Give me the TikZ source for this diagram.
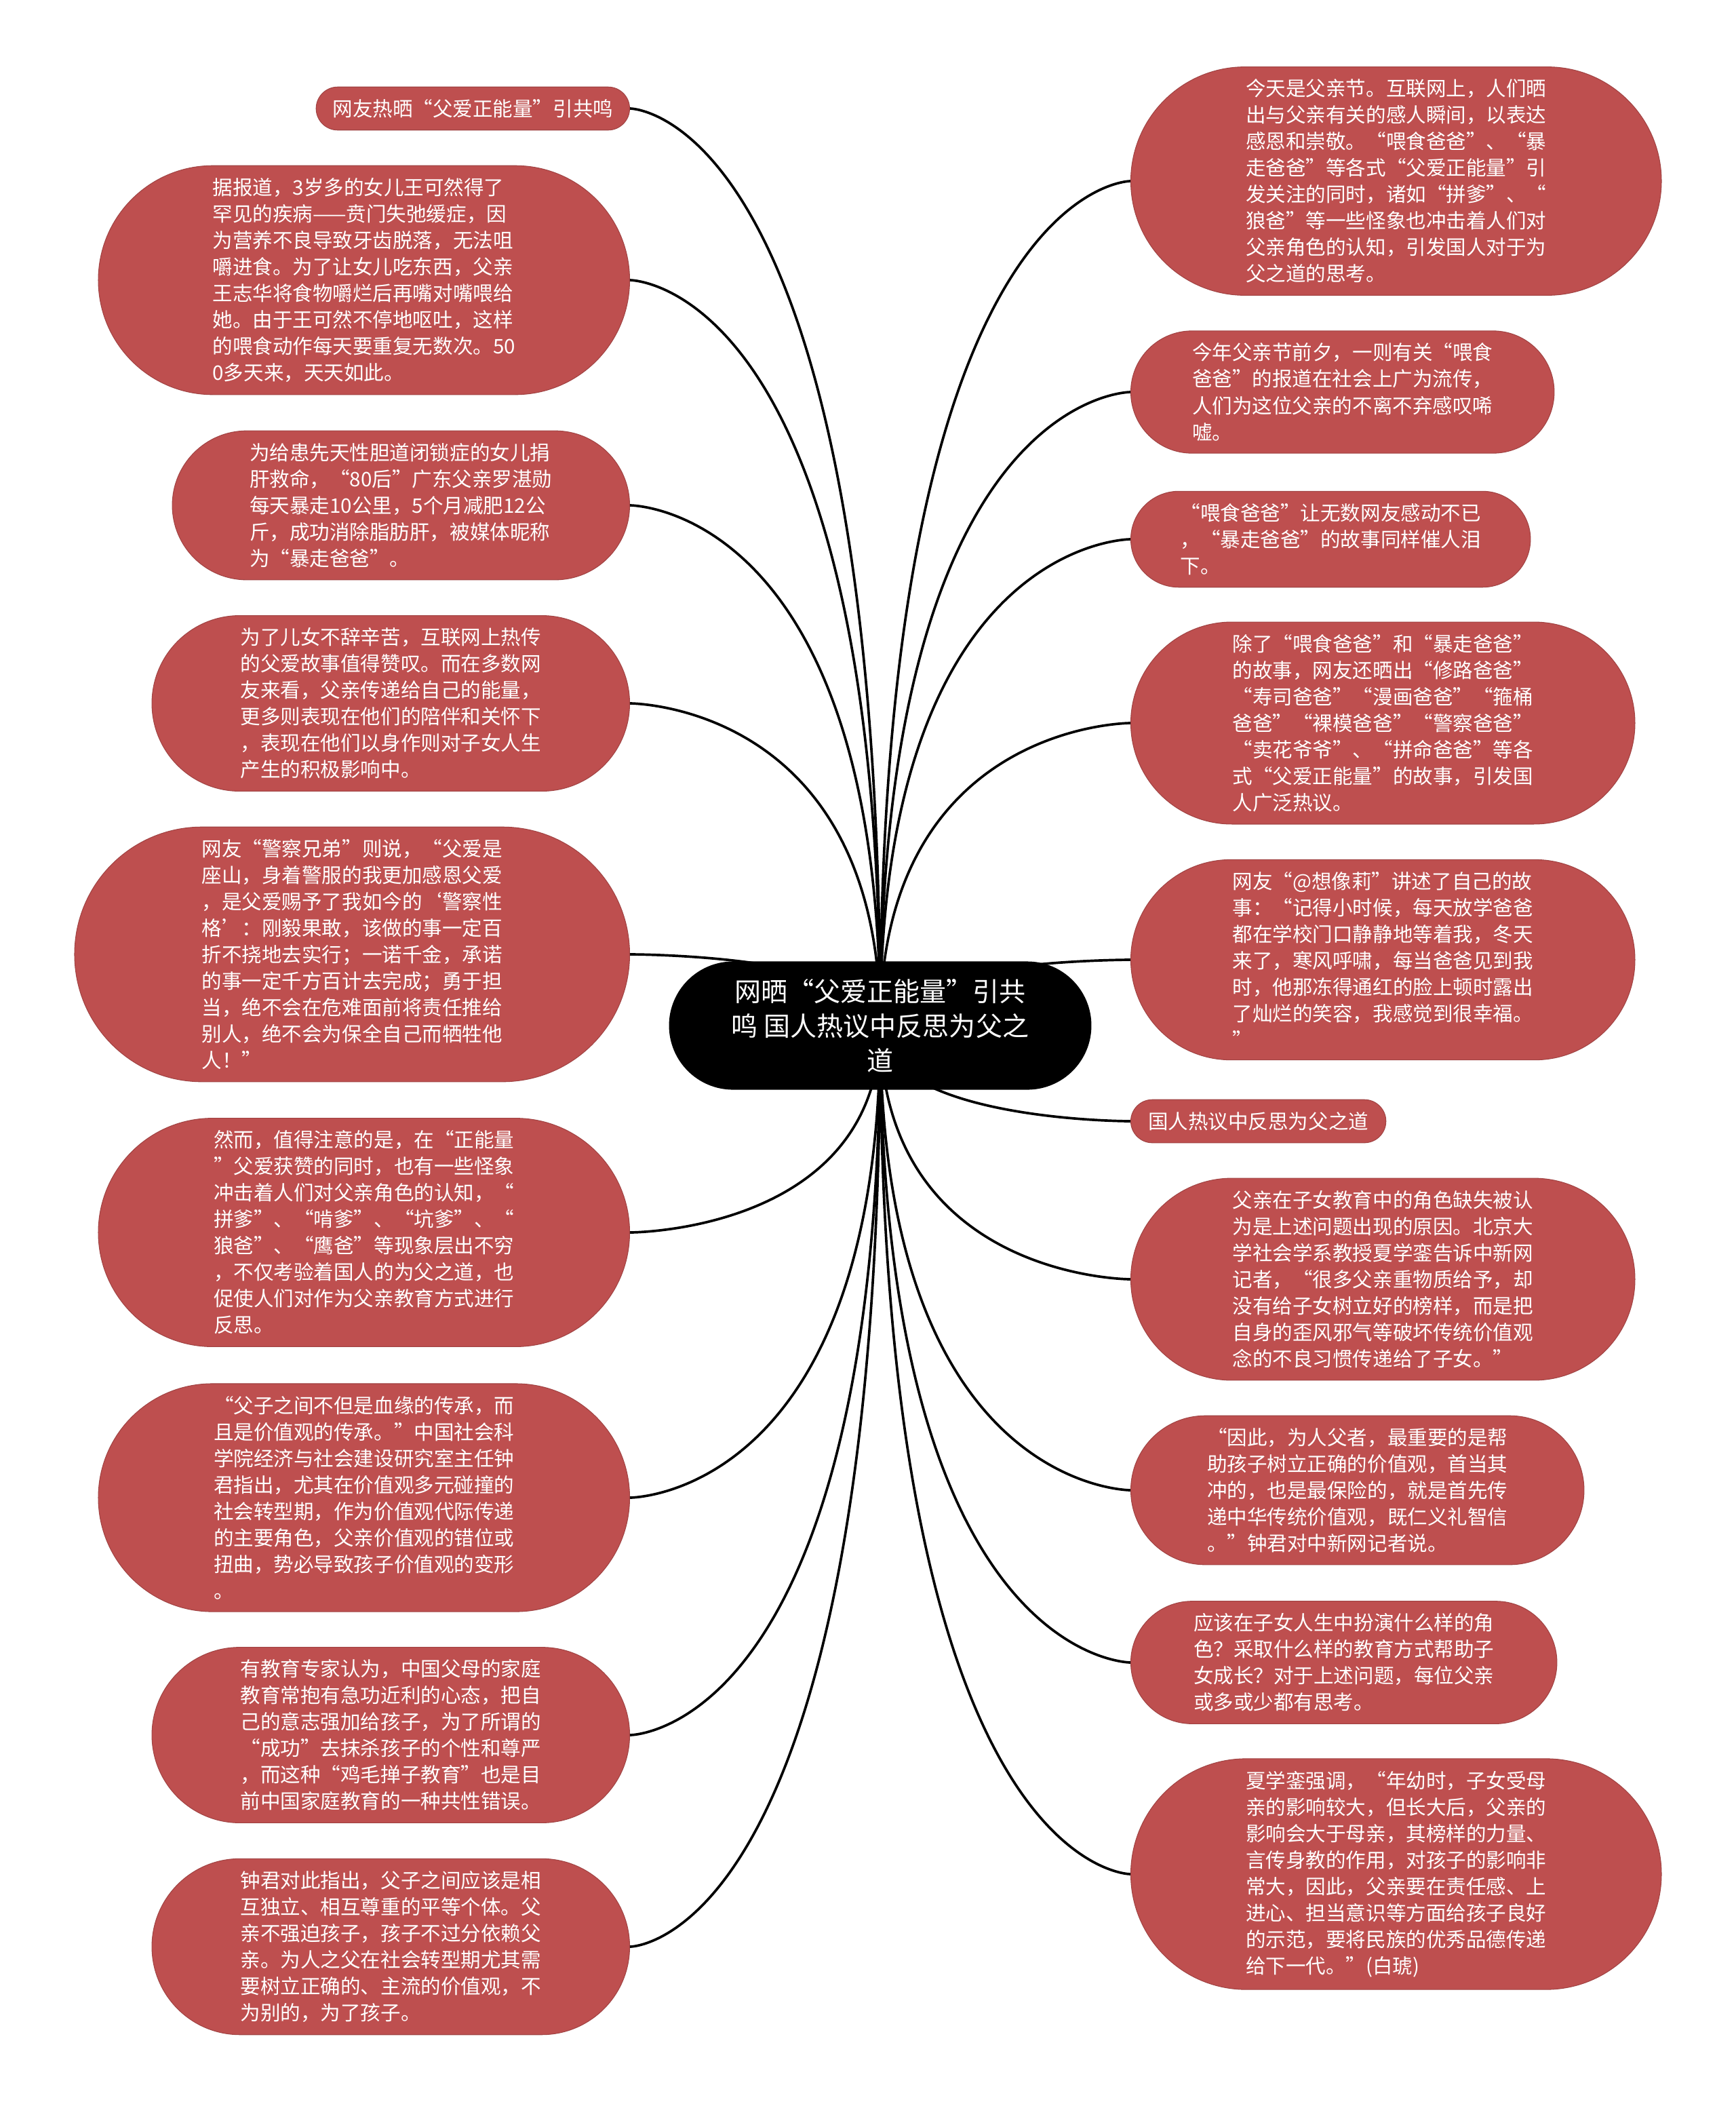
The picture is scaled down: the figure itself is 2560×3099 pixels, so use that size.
\documentclass[tikz,border=0pt]{standalone}
\usepackage{fontspec}
\setmainfont{Noto Sans CJK SC}
\usepackage{xcolor}
\usetikzlibrary{shapes.misc, backgrounds}
\definecolor{leafred}{RGB}{190,79,79}
\tikzset{
  leaf/.style={rounded rectangle, draw=leafred!85!black, line width=0.3pt,
               fill=leafred, text=white, align=left, inner xsep=0.06cm,
               inner ysep=0.18cm, font=\fontsize{8.4pt}{11.1pt}\selectfont},
  topic/.style={rounded rectangle, fill=black, text=white, align=center,
                minimum width=6.46cm, minimum height=1.89cm,
                font=\fontsize{11.1pt}{14.5pt}\selectfont},
  link/.style={draw=black, line width=1.05pt},
}

\begin{document}
\begin{tikzpicture}[x=0.01cm, y=-0.01cm]
  \useasboundingbox (0,0) rectangle (2560,3099);

  \node[topic] (hub) at (1298,1512) {网晒“父爱正能量”引共\\鸣 国人热议中反思为父之\\道};

  % left side
  \node[leaf, anchor=east, minimum width=4.74cm] (l1) at (929,160) {网友热晒“父爱正能量”引共鸣};
  \node[leaf, anchor=east, minimum width=7.95cm] (l2) at (929,413)
    {据报道，3岁多的女儿王可然得了\\罕见的疾病——贲门失弛缓症，因\\为营养不良导致牙齿脱落，无法咀\\嚼进食。为了让女儿吃东西，父亲\\王志华将食物嚼烂后再嘴对嘴喂给\\她。由于王可然不停地呕吐，这样\\的喂食动作每天要重复无数次。50\\0多天来，天天如此。};
  \node[leaf, anchor=east, minimum width=6.86cm] (l3) at (929,745)
    {为给患先天性胆道闭锁症的女儿捐\\肝救命，“80后”广东父亲罗湛勋\\每天暴走10公里，5个月减肥12公\\斤，成功消除脂肪肝，被媒体昵称\\为“暴走爸爸”。};
  \node[leaf, anchor=east, minimum width=7.16cm] (l4) at (929,1037)
    {为了儿女不辞辛苦，互联网上热传\\的父爱故事值得赞叹。而在多数网\\友来看，父亲传递给自己的能量，\\更多则表现在他们的陪伴和关怀下\\，表现在他们以身作则对子女人生\\产生的积极影响中。};
  \node[leaf, anchor=east, minimum width=8.30cm] (l5) at (929,1407)
    {网友“警察兄弟”则说，“父爱是\\座山，身着警服的我更加感恩父爱\\，是父爱赐予了我如今的‘警察性\\格’：刚毅果敢，该做的事一定百\\折不挠地去实行；一诺千金，承诺\\的事一定千方百计去完成；勇于担\\当，绝不会在危难面前将责任推给\\别人，绝不会为保全自己而牺牲他\\人！”};
  \node[leaf, anchor=east, minimum width=7.95cm] (l6) at (929,1817)
    {然而，值得注意的是，在“正能量\\”父爱获赞的同时，也有一些怪象\\冲击着人们对父亲角色的认知，“\\拼爹”、“啃爹”、“坑爹”、“\\狼爸”、“鹰爸”等现象层出不穷\\，不仅考验着国人的为父之道，也\\促使人们对作为父亲教育方式进行\\反思。};
  \node[leaf, anchor=east, minimum width=7.95cm] (l7) at (929,2208)
    {“父子之间不但是血缘的传承，而\\且是价值观的传承。”中国社会科\\学院经济与社会建设研究室主任钟\\君指出，尤其在价值观多元碰撞的\\社会转型期，作为价值观代际传递\\的主要角色，父亲价值观的错位或\\扭曲，势必导致孩子价值观的变形\\。};
  \node[leaf, anchor=east, minimum width=7.16cm] (l8) at (929,2558)
    {有教育专家认为，中国父母的家庭\\教育常抱有急功近利的心态，把自\\己的意志强加给孩子，为了所谓的\\“成功”去抹杀孩子的个性和尊严\\，而这种“鸡毛掸子教育”也是目\\前中国家庭教育的一种共性错误。};
  \node[leaf, anchor=east, minimum width=7.16cm] (l9) at (929,2870)
    {钟君对此指出，父子之间应该是相\\互独立、相互尊重的平等个体。父\\亲不强迫孩子，孩子不过分依赖父\\亲。为人之父在社会转型期尤其需\\要树立正确的、主流的价值观，不\\为别的，为了孩子。};

  % right side
  \node[leaf, anchor=west, minimum width=7.94cm] (r1) at (1667,267)
    {今天是父亲节。互联网上，人们晒\\出与父亲有关的感人瞬间，以表达\\感恩和崇敬。“喂食爸爸”、“暴\\走爸爸”等各式“父爱正能量”引\\发关注的同时，诸如“拼爹”、“\\狼爸”等一些怪象也冲击着人们对\\父亲角色的认知，引发国人对于为\\父之道的思考。};
  \node[leaf, anchor=west, minimum width=6.36cm] (r2) at (1667,578)
    {今年父亲节前夕，一则有关“喂食\\爸爸”的报道在社会上广为流传，\\人们为这位父亲的不离不弃感叹唏\\嘘。};
  \node[leaf, anchor=west, minimum width=6.01cm] (r3) at (1667,795)
    {“喂食爸爸”让无数网友感动不已\\，“暴走爸爸”的故事同样催人泪\\下。};
  \node[leaf, anchor=west, minimum width=7.55cm] (r4) at (1667,1066)
    {除了“喂食爸爸”和“暴走爸爸”\\的故事，网友还晒出“修路爸爸”\\“寿司爸爸”“漫画爸爸”“箍桶\\爸爸”“裸模爸爸”“警察爸爸”\\“卖花爷爷”、“拼命爸爸”等各\\式“父爱正能量”的故事，引发国\\人广泛热议。};
  \node[leaf, anchor=west, minimum width=7.55cm] (r5) at (1667,1415)
    {网友“@想像莉”讲述了自己的故\\事：“记得小时候，每天放学爸爸\\都在学校门口静静地等着我，冬天\\来了，寒风呼啸，每当爸爸见到我\\时，他那冻得通红的脸上顿时露出\\了灿烂的笑容，我感觉到很幸福。\\”};
  \node[leaf, anchor=west, minimum width=3.88cm] (r6) at (1667,1653) {国人热议中反思为父之道};
  \node[leaf, anchor=west, minimum width=7.55cm] (r7) at (1667,1886)
    {父亲在子女教育中的角色缺失被认\\为是上述问题出现的原因。北京大\\学社会学系教授夏学銮告诉中新网\\记者，“很多父亲重物质给予，却\\没有给子女树立好的榜样，而是把\\自身的歪风邪气等破坏传统价值观\\念的不良习惯传递给了子女。”};
  \node[leaf, anchor=west, minimum width=6.80cm] (r8) at (1667,2197)
    {“因此，为人父者，最重要的是帮\\助孩子树立正确的价值观，首当其\\冲的，也是最保险的，就是首先传\\递中华传统价值观，既仁义礼智信\\。”钟君对中新网记者说。};
  \node[leaf, anchor=west, minimum width=6.40cm] (r9) at (1667,2451)
    {应该在子女人生中扮演什么样的角\\色？采取什么样的教育方式帮助子\\女成长？对于上述问题，每位父亲\\或多或少都有思考。};
  \node[leaf, anchor=west, minimum width=7.94cm] (r10) at (1667,2763)
    {夏学銮强调，“年幼时，子女受母\\亲的影响较大，但长大后，父亲的\\影响会大于母亲，其榜样的力量、\\言传身教的作用，对孩子的影响非\\常大，因此，父亲要在责任感、上\\进心、担当意识等方面给孩子良好\\的示范，要将民族的优秀品德传递\\给下一代。”(白琥)};

  \begin{scope}[on background layer]
    \fill[white] (0,0) rectangle (2560,3099);
    \draw[link] (hub.center) .. controls (hub.center |- l1.east) and (l1.east) .. (l1.east);
    \draw[link] (hub.center) .. controls (hub.center |- l2.east) and (l2.east) .. (l2.east);
    \draw[link] (hub.center) .. controls (hub.center |- l3.east) and (l3.east) .. (l3.east);
    \draw[link] (hub.center) .. controls (hub.center |- l4.east) and (l4.east) .. (l4.east);
    \draw[link] (hub.center) .. controls (hub.center |- l5.east) and (l5.east) .. (l5.east);
    \draw[link] (hub.center) .. controls (hub.center |- l6.east) and (l6.east) .. (l6.east);
    \draw[link] (hub.center) .. controls (hub.center |- l7.east) and (l7.east) .. (l7.east);
    \draw[link] (hub.center) .. controls (hub.center |- l8.east) and (l8.east) .. (l8.east);
    \draw[link] (hub.center) .. controls (hub.center |- l9.east) and (l9.east) .. (l9.east);
    \draw[link] (hub.center) .. controls (hub.center |- r1.west) and (r1.west) .. (r1.west);
    \draw[link] (hub.center) .. controls (hub.center |- r2.west) and (r2.west) .. (r2.west);
    \draw[link] (hub.center) .. controls (hub.center |- r3.west) and (r3.west) .. (r3.west);
    \draw[link] (hub.center) .. controls (hub.center |- r4.west) and (r4.west) .. (r4.west);
    \draw[link] (hub.center) .. controls (hub.center |- r5.west) and (r5.west) .. (r5.west);
    \draw[link] (hub.center) .. controls (hub.center |- r6.west) and (r6.west) .. (r6.west);
    \draw[link] (hub.center) .. controls (hub.center |- r7.west) and (r7.west) .. (r7.west);
    \draw[link] (hub.center) .. controls (hub.center |- r8.west) and (r8.west) .. (r8.west);
    \draw[link] (hub.center) .. controls (hub.center |- r9.west) and (r9.west) .. (r9.west);
    \draw[link] (hub.center) .. controls (hub.center |- r10.west) and (r10.west) .. (r10.west);
  \end{scope}
\end{tikzpicture}
\end{document}
